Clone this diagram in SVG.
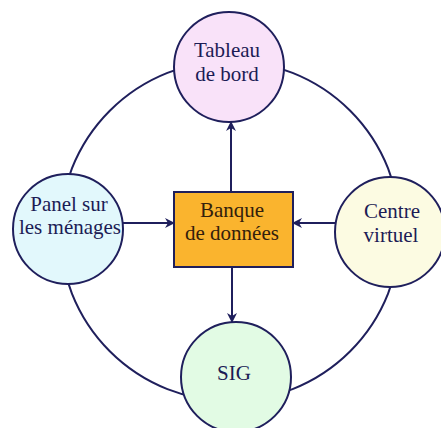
<svg xmlns="http://www.w3.org/2000/svg" width="441" height="428" viewBox="0 0 441 428">
<style>
.ring{fill:none;stroke:#1f1f5c;stroke-width:2}
.node{stroke:#1f1f5c;stroke-width:2}
.lbl{font-family:'Liberation Serif','DejaVu Serif',serif;font-size:21px;fill:#1c1c55;text-anchor:middle}
.blbl{font-family:'Liberation Serif','DejaVu Serif',serif;font-size:21px;fill:#33200c;text-anchor:middle}
.arr{stroke:#1f1f5c;stroke-width:2;fill:none;marker-end:url(#ah)}
</style>
<defs>
<marker id="ah" viewBox="0 0 10 10" refX="9" refY="5" markerWidth="5" markerHeight="5" orient="auto" markerUnits="strokeWidth">
<path d="M0,0 L10,5 L0,10 L3,5 Z" fill="#1f1f5c"/>
</marker>
</defs>
<rect width="441" height="428" fill="#ffffff"/>
<g id="connectors">
<circle class="ring" cx="230" cy="231" r="170"/>
<line class="arr" x1="231" y1="192" x2="231" y2="122"/>
<line class="arr" x1="232" y1="267" x2="232" y2="322"/>
<line class="arr" x1="121" y1="223" x2="174" y2="223"/>
<line class="arr" x1="335" y1="223" x2="293" y2="223"/>
</g>
<g id="tableau">
<circle class="node" cx="229" cy="67" r="55" fill="#f9e2f9"/>
<text class="lbl" x="227" y="57">Tableau</text>
<text class="lbl" x="227" y="81">de bord</text>
</g>
<g id="panel">
<circle class="node" cx="68" cy="229" r="55" fill="#e2f8fc"/>
<text class="lbl" x="69" y="211">Panel sur</text>
<text class="lbl" x="70" y="234">les ménages</text>
</g>
<g id="centre">
<circle class="node" cx="390" cy="232" r="55" fill="#fcfbe2"/>
<text class="lbl" x="392" y="218">Centre</text>
<text class="lbl" x="391" y="242">virtuel</text>
</g>
<g id="sig">
<circle class="node" cx="236" cy="377" r="55" fill="#e2fbe4"/>
<text class="lbl" x="234" y="380">SIG</text>
</g>
<g id="banque">
<rect class="node" x="174" y="192" width="119" height="75" fill="#fab42e"/>
<text class="blbl" x="232" y="217">Banque</text>
<text class="blbl" x="232" y="240">de données</text>
</g>
</svg>
